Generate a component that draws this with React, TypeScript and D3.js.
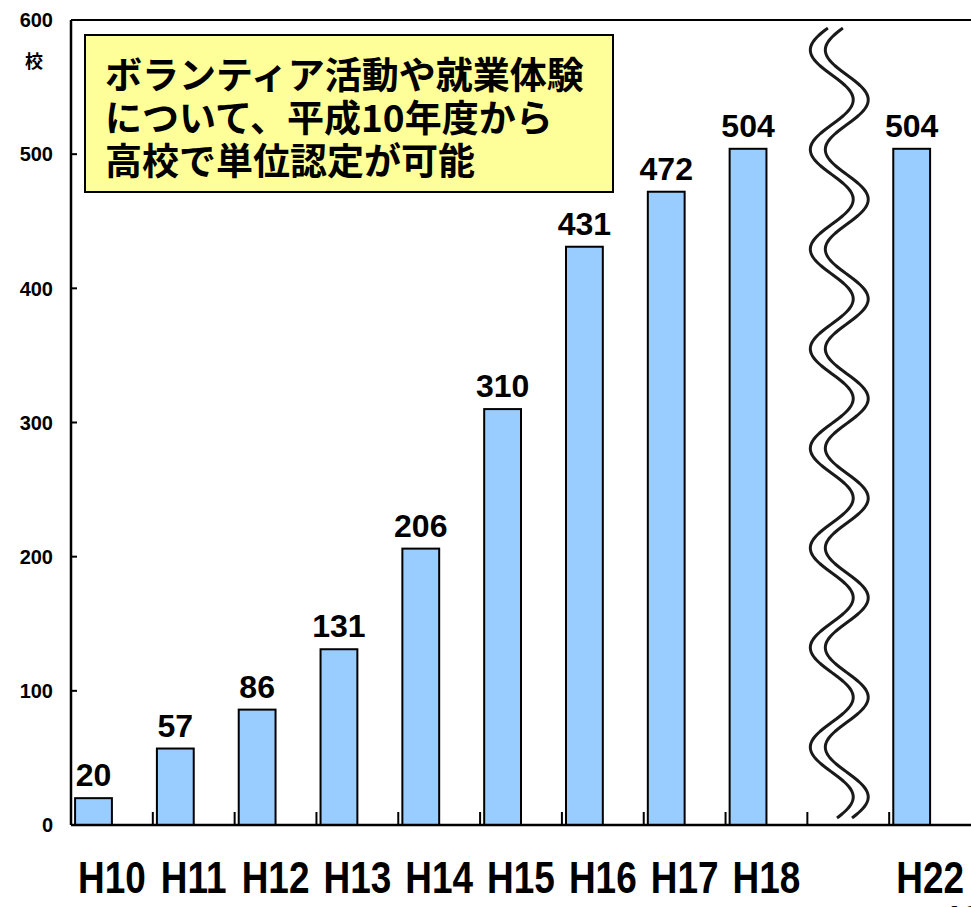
import React from "react";
import * as d3 from "d3";

const categories = ["H10", "H11", "H12", "H13", "H14", "H15", "H16", "H17", "H18", "H22"];
const values = [20, 57, 86, 131, 206, 310, 431, 472, 504, 504];
const yTicks = [0, 100, 200, 300, 400, 500, 600];
const breakAfter = "H18";
const unitLabel = "校";
const noteLines = ["ボランティア活動や就業体験", "について、平成10年度から", "高校で単位認定が可能"];
const pageNumber = "13";

const W = 971;
const H = 907;
const left = 71;
const right = 971;
const top = 20;
const bottom = 825;

export default function App() {
  const breakIdx = categories.indexOf(breakAfter) + 1;
  const slots = [...categories.slice(0, breakIdx), "__break__", ...categories.slice(breakIdx)];
  const x = d3.scaleBand<string>().domain(slots).range([left, right]).paddingInner(0).paddingOuter(0);
  const y = d3.scaleLinear().domain([0, 600]).range([bottom, top]);
  const bw = x.bandwidth();
  const barOff = bw * 0.05;
  const barW = bw * 0.45;

  // break wave
  const bx = x("__break__")! + bw / 2;
  const period = 99.6;
  const amp = 21.5;
  const y0 = 50;
  const wavePts = (cx: number) =>
    d3.range(28, 819, 2).map((yy) => [cx - amp * Math.cos((2 * Math.PI * (yy - y0)) / period), yy] as [number, number]);
  const line = d3.line<[number, number]>().curve(d3.curveBasis);
  const c1 = bx - 16.5;
  const c2 = bx - 1.5;

  const boundaries = d3.range(1, slots.length).map((i) => left + i * bw);

  return (
    <svg width={W} height={H} style={{ position: "absolute", left: 0, top: 0, background: "#fff" }}>
      <rect x={0} y={0} width={W} height={H} fill="#fff" />
      {/* bars */}
      {categories.map((c, i) => (
        <rect
          key={c}
          x={x(c)! + barOff}
          y={y(values[i])}
          width={barW}
          height={y(0) - y(values[i])}
          fill="#99CCFF"
          stroke="#000"
          strokeWidth={2}
        />
      ))}
      {/* value labels */}
      {categories.map((c, i) => (
        <text
          key={c + "v"}
          x={x(c)! + barOff + barW / 2}
          y={y(values[i]) - 12}
          textAnchor="middle"
          fontFamily="'Liberation Sans', Arial, sans-serif"
          fontWeight="bold"
          fontSize={32}
          fill="#000"
        >
          {values[i]}
        </text>
      ))}
      {/* frame */}
      <line x1={left} x2={right} y1={top} y2={top} stroke="#000" strokeWidth={2} />
      <line x1={left} x2={left} y1={top} y2={bottom} stroke="#000" strokeWidth={2.5} />
      <line x1={left} x2={right} y1={bottom} y2={bottom} stroke="#000" strokeWidth={2.5} />
      {/* y ticks */}
      {yTicks.map((t) => (
        <g key={t}>
          <line x1={left} x2={left + 6} y1={y(t)} y2={y(t)} stroke="#000" strokeWidth={2} />
          <text
            x={53}
            y={y(t)}
            dy="0.36em"
            textAnchor="end"
            fontFamily="'Liberation Sans', Arial, sans-serif"
            fontWeight="bold"
            fontSize={20}
            fill="#000"
          >
            {t}
          </text>
        </g>
      ))}
      <text
        x={34}
        y={68}
        textAnchor="middle"
        fontFamily="'Noto Sans CJK JP', sans-serif"
        fontWeight="bold"
        fontSize={18}
        fill="#000"
      >
        {unitLabel}
      </text>
      {/* x ticks */}
      {boundaries.map((b) => (
        <line key={b} x1={b} x2={b} y1={bottom} y2={bottom - 13} stroke="#000" strokeWidth={2} />
      ))}
      {/* category labels (condensed) */}
      {categories.map((c) => (
        <text
          key={c + "l"}
          transform={`translate(${x(c)! + bw / 2},893) scale(0.84,1)`}
          textAnchor="middle"
          fontFamily="'Liberation Sans', Arial, sans-serif"
          fontWeight="bold"
          fontSize={44}
          fill="#000"
        >
          {c}
        </text>
      ))}
      {/* break mark */}
      <path d={line(wavePts(c1))!} fill="none" stroke="#1a1a1a" strokeWidth={3} />
      <path d={line(wavePts(c2))!} fill="none" stroke="#1a1a1a" strokeWidth={3} />
      {/* note box */}
      <rect x={85} y={35} width={528} height={157} fill="#FFFF99" stroke="#000" strokeWidth={2} />
      {noteLines.map((l, i) => (
        <text
          key={i}
          x={105}
          y={89 + i * 43}
          fontFamily="'Noto Sans CJK JP', sans-serif"
          fontWeight="bold"
          fontSize={37}
          fill="#000"
        >
          {l}
        </text>
      ))}
      <text
        x={945}
        y={928}
        fontFamily="'Liberation Sans', Arial, sans-serif"
        fontWeight="bold"
        fontSize={32}
        fill="#000"
      >
        {pageNumber}
      </text>
    </svg>
  );
}
